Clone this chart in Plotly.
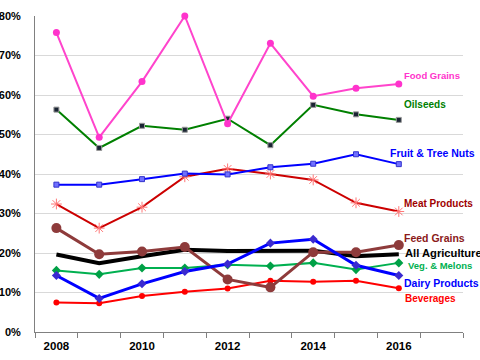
import plotly.graph_objects as go

years = [2008, 2009, 2010, 2011, 2012, 2013, 2014, 2015, 2016]

food_grains = [75.8, 49.3, 63.4, 80.0, 52.7, 73.1, 59.7, 61.7, 62.8]
oilseeds = [56.3, 46.6, 52.2, 51.2, 54.0, 47.3, 57.5, 55.1, 53.7]
fruit_nuts = [37.3, 37.3, 38.7, 40.1, 39.9, 41.7, 42.6, 45.0, 42.5]
meat = [32.4, 26.3, 31.6, 39.3, 41.3, 40.0, 38.5, 32.7, 30.5]
feed_grains = [26.3, 19.7, 20.4, 21.5, 13.3, 11.3, 20.2, 20.2, 22.0]
all_ag = [19.6, 17.4, 19.2, 20.8, 20.5, 20.6, 20.6, 19.2, 19.7]
veg_melons = [15.6, 14.6, 16.2, 16.2, 17.0, 16.7, 17.5, 15.8, 17.5]
dairy = [14.3, 8.5, 12.2, 15.3, 17.2, 22.5, 23.5, 16.9, 14.3]
beverages = [7.5, 7.3, 9.1, 10.2, 11.0, 13.0, 12.7, 13.0, 11.1]

x_ticks = [2008, 2010, 2012, 2014, 2016]
y_ticks = [0, 10, 20, 30, 40, 50, 60, 70, 80]

series = [
    ("Beverages", beverages, "#FF0000", 2, dict(symbol="circle", size=6, color="#FF0000")),
    ("Veg. & Melons", veg_melons, "#00B050", 2, dict(symbol="diamond", size=7, color="#00A046")),
    ("Meat Products", meat, "#CC0000", 2, dict(symbol="asterisk-open", size=9, color="#FF7777", line=dict(width=1, color="#FF7777"))),
    ("Fruit & Tree Nuts", fruit_nuts, "#0000FF", 2, dict(symbol="square", size=5, color="#7070FF", line=dict(width=1, color="#3333CC"))),
    ("Oilseeds", oilseeds, "#008000", 2, dict(symbol="square", size=5, color="#1A2433", line=dict(width=1, color="#999999"))),
    ("Food Grains", food_grains, "#FF44CC", 2, dict(symbol="circle", size=7, color="#FF33CC")),
    ("All Agriculture", all_ag, "#000000", 4, None),
    ("Feed Grains", feed_grains, "#8E3B3B", 3, dict(symbol="circle", size=10, color="#8E3B3B")),
    ("Dairy Products", dairy, "#0000FF", 3, dict(symbol="diamond", size=7, color="#3A2AD0")),
]

fig = go.Figure()
for name, vals, col, w, mk in series:
    fig.add_trace(go.Scatter(
        x=years, y=vals, name=name,
        mode="lines+markers" if mk else "lines",
        line=dict(color=col, width=w),
        marker=mk if mk else None,
        cliponaxis=False,
    ))

labels = [
    ("Food Grains", 2016.07, 65.0, "#FF33CC", 9.5),
    ("Oilseeds", 2016.07, 57.5, "#008000", 10),
    ("Fruit & Tree Nuts", 2015.75, 45.3, "#0000FF", 10.5),
    ("Meat Products", 2016.07, 32.6, "#A00000", 10),
    ("Feed Grains", 2016.07, 23.8, "#8B1A1A", 10.5),
    ("All Agriculture", 2016.1, 20.0, "#000000", 11.2),
    ("Veg. & Melons", 2016.17, 16.9, "#00B050", 9.5),
    ("Dairy Products", 2016.07, 12.4, "#0000FF", 10.5),
    ("Beverages", 2016.1, 8.6, "#FF0000", 10),
]
for txt, xv, yv, col, sz in labels:
    fig.add_annotation(x=xv, y=yv, xref="x", yref="y", text=txt, showarrow=False,
                       xanchor="left", yanchor="middle",
                       font=dict(family="Liberation Sans, Arial", size=sz, color=col, weight="bold"))

fig.update_layout(
    width=480, height=360,
    margin=dict(l=35, r=17, t=16, b=28),
    plot_bgcolor="white", paper_bgcolor="white",
    showlegend=False,
    font=dict(family="Liberation Sans, Arial", size=12, color="#000000"),
)
fig.update_xaxes(
    range=[2007.5, 2017.5], tickvals=x_ticks, ticktext=[str(t) for t in x_ticks],
    ticks="", showgrid=False, showline=True, linecolor="#808080", linewidth=1,
    tickfont=dict(size=11.5, weight="bold"), ticklabelstandoff=3, automargin=False,
    minor=dict(tick0=2007.5, dtick=1, ticks="outside", ticklen=5, tickcolor="#808080", showgrid=False),
    zeroline=False,
)
fig.update_yaxes(
    range=[0, 80], tickvals=y_ticks, ticktext=[f"{t}%" for t in y_ticks],
    showgrid=True, gridcolor="#D9D9D9", gridwidth=1,
    showline=True, linecolor="#808080", linewidth=1, ticks="",
    tickfont=dict(size=11, weight="bold"), ticklabelstandoff=11, automargin=False,
    zeroline=False,
)

fig.write_html("out.html", config={"displayModeBar": False},
               post_script="document.body.style.margin='0';")
